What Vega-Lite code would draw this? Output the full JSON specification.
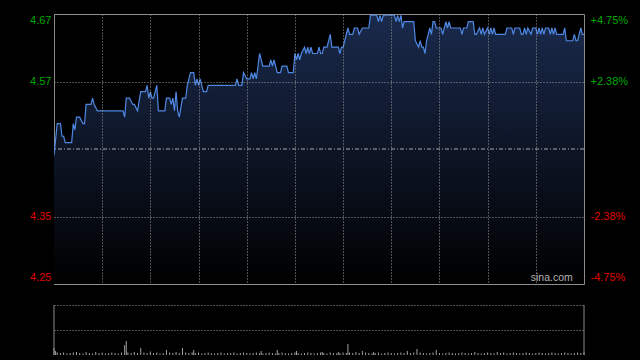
{
  "$schema": "https://vega.github.io/schema/vega-lite/v6.json",
  "background": "#000000",
  "padding": {"left": 29, "top": 13, "right": 13, "bottom": 6},
  "spacing": 21,
  "bounds": "flush",
  "config": {
    "font": "Liberation Sans",
    "view": {"stroke": "#8a8a8a"},
    "axis": {"labelFont": "Liberation Sans", "labelFontSize": 11}
  },
  "datasets": {
    "price": [
      {"t":0,"p":4.45},{"t":2,"p":4.50},{"t":4,"p":4.50},{"t":5,"p":4.48},{"t":6,"p":4.48},{"t":7,"p":4.47},{"t":11,"p":4.47},
      {"t":12,"p":4.50},{"t":13,"p":4.49},{"t":14,"p":4.51},{"t":16,"p":4.51},{"t":18,"p":4.50},{"t":19,"p":4.50},{"t":20,"p":4.53},
      {"t":23,"p":4.53},{"t":24,"p":4.54},{"t":25,"p":4.53},{"t":27,"p":4.52},{"t":43,"p":4.52},{"t":44,"p":4.51},{"t":45,"p":4.54},
      {"t":47,"p":4.54},{"t":49,"p":4.53},{"t":50,"p":4.53},{"t":52,"p":4.52},{"t":54,"p":4.55},{"t":57,"p":4.55},{"t":58,"p":4.56},
      {"t":59,"p":4.54},{"t":60,"p":4.55},{"t":61,"p":4.54},{"t":62,"p":4.54},{"t":64,"p":4.56},{"t":65,"p":4.52},{"t":69,"p":4.52},
      {"t":70,"p":4.54},{"t":72,"p":4.54},{"t":73,"p":4.53},{"t":74,"p":4.54},{"t":75,"p":4.52},{"t":76,"p":4.55},{"t":77,"p":4.52},
      {"t":78,"p":4.51},{"t":80,"p":4.54},{"t":82,"p":4.54},{"t":83,"p":4.56},{"t":85,"p":4.58},{"t":87,"p":4.58},{"t":88,"p":4.56},
      {"t":89,"p":4.57},{"t":90,"p":4.56},{"t":91,"p":4.57},{"t":92,"p":4.56},{"t":93,"p":4.55},{"t":95,"p":4.55},{"t":96,"p":4.56},
      {"t":113,"p":4.56},{"t":114,"p":4.57},{"t":115,"p":4.56},{"t":117,"p":4.56},{"t":118,"p":4.58},{"t":120,"p":4.57},{"t":122,"p":4.57},
      {"t":123,"p":4.58},{"t":124,"p":4.57},{"t":125,"p":4.58},{"t":126,"p":4.57},{"t":128,"p":4.61},{"t":130,"p":4.59},{"t":134,"p":4.59},
      {"t":135,"p":4.60},{"t":136,"p":4.59},{"t":137,"p":4.60},{"t":138,"p":4.59},{"t":139,"p":4.58},{"t":141,"p":4.58},{"t":142,"p":4.59},
      {"t":145,"p":4.59},{"t":146,"p":4.58},{"t":149,"p":4.58},{"t":150,"p":4.61},{"t":151,"p":4.60},{"t":152,"p":4.61},{"t":153,"p":4.60},
      {"t":154,"p":4.61},{"t":156,"p":4.62},{"t":157,"p":4.61},{"t":158,"p":4.62},{"t":159,"p":4.61},{"t":160,"p":4.62},{"t":161,"p":4.61},
      {"t":164,"p":4.61},{"t":165,"p":4.62},{"t":166,"p":4.61},{"t":167,"p":4.61},{"t":168,"p":4.62},{"t":170,"p":4.62},{"t":172,"p":4.64},
      {"t":173,"p":4.62},{"t":177,"p":4.62},{"t":178,"p":4.61},{"t":179,"p":4.62},{"t":180,"p":4.62},{"t":181,"p":4.63},{"t":183,"p":4.65},
      {"t":184,"p":4.64},{"t":186,"p":4.64},{"t":187,"p":4.65},{"t":189,"p":4.65},{"t":190,"p":4.64},{"t":192,"p":4.65},{"t":196,"p":4.65},
      {"t":197,"p":4.67},{"t":201,"p":4.67},{"t":202,"p":4.66},{"t":203,"p":4.67},{"t":204,"p":4.66},{"t":205,"p":4.67},{"t":212,"p":4.67},
      {"t":213,"p":4.66},{"t":214,"p":4.67},{"t":215,"p":4.66},{"t":216,"p":4.67},{"t":217,"p":4.65},{"t":218,"p":4.66},{"t":224,"p":4.66},
      {"t":225,"p":4.63},{"t":227,"p":4.62},{"t":228,"p":4.63},{"t":229,"p":4.62},{"t":230,"p":4.62},{"t":231,"p":4.61},{"t":232,"p":4.63},
      {"t":233,"p":4.64},{"t":234,"p":4.65},{"t":235,"p":4.64},{"t":236,"p":4.66},{"t":237,"p":4.66},{"t":238,"p":4.65},{"t":241,"p":4.65},
      {"t":242,"p":4.64},{"t":243,"p":4.65},{"t":244,"p":4.66},{"t":245,"p":4.65},{"t":246,"p":4.66},{"t":247,"p":4.65},{"t":253,"p":4.65},
      {"t":254,"p":4.64},{"t":255,"p":4.65},{"t":257,"p":4.65},{"t":258,"p":4.66},{"t":261,"p":4.66},{"t":262,"p":4.64},{"t":263,"p":4.64},
      {"t":265,"p":4.65},{"t":266,"p":4.64},{"t":267,"p":4.65},{"t":268,"p":4.64},{"t":270,"p":4.65},{"t":271,"p":4.64},{"t":272,"p":4.65},
      {"t":273,"p":4.64},{"t":274,"p":4.65},{"t":275,"p":4.64},{"t":281,"p":4.64},{"t":282,"p":4.65},{"t":285,"p":4.65},{"t":286,"p":4.64},
      {"t":287,"p":4.65},{"t":290,"p":4.65},{"t":291,"p":4.64},{"t":292,"p":4.64},{"t":293,"p":4.65},{"t":294,"p":4.64},{"t":295,"p":4.65},
      {"t":297,"p":4.64},{"t":298,"p":4.65},{"t":300,"p":4.65},{"t":301,"p":4.64},{"t":302,"p":4.65},{"t":303,"p":4.64},{"t":304,"p":4.65},
      {"t":305,"p":4.64},{"t":306,"p":4.65},{"t":308,"p":4.65},{"t":309,"p":4.64},{"t":310,"p":4.65},{"t":311,"p":4.64},{"t":312,"p":4.65},
      {"t":313,"p":4.64},{"t":317,"p":4.64},{"t":318,"p":4.65},{"t":319,"p":4.63},{"t":323,"p":4.63},{"t":324,"p":4.64},{"t":325,"p":4.63},
      {"t":326,"p":4.63},{"t":327,"p":4.64},{"t":328,"p":4.65},{"t":329,"p":4.64},{"t":330,"p":4.64}
    ],
    "vol": [
      {"t":0,"v":14},{"t":1,"v":8},{"t":2,"v":5},{"t":4,"v":4},{"t":6,"v":5},{"t":8,"v":3},{"t":10,"v":4},{"t":12,"v":5},{"t":14,"v":6},
      {"t":16,"v":4},{"t":18,"v":3},{"t":20,"v":6},{"t":22,"v":4},{"t":24,"v":3},{"t":26,"v":6},{"t":28,"v":4},{"t":30,"v":5},{"t":32,"v":3},
      {"t":34,"v":4},{"t":36,"v":5},{"t":38,"v":4},{"t":40,"v":3},{"t":42,"v":5},{"t":44,"v":20},{"t":45,"v":28},{"t":46,"v":5},{"t":48,"v":4},
      {"t":50,"v":6},{"t":52,"v":4},{"t":54,"v":14},{"t":56,"v":5},{"t":58,"v":4},{"t":60,"v":7},{"t":62,"v":4},{"t":64,"v":5},{"t":66,"v":3},
      {"t":68,"v":4},{"t":70,"v":10},{"t":72,"v":5},{"t":74,"v":4},{"t":76,"v":6},{"t":78,"v":4},{"t":80,"v":14},{"t":82,"v":5},{"t":84,"v":4},
      {"t":86,"v":5},{"t":87,"v":10},{"t":88,"v":4},{"t":90,"v":5},{"t":92,"v":3},{"t":94,"v":4},{"t":96,"v":5},{"t":98,"v":4},{"t":100,"v":3},
      {"t":102,"v":4},{"t":104,"v":5},{"t":106,"v":3},{"t":108,"v":4},{"t":110,"v":4},{"t":112,"v":5},{"t":114,"v":3},{"t":116,"v":4},
      {"t":118,"v":5},{"t":120,"v":4},{"t":122,"v":3},{"t":124,"v":4},{"t":126,"v":5},{"t":128,"v":4},{"t":129,"v":8},{"t":130,"v":3},
      {"t":132,"v":4},{"t":134,"v":5},{"t":136,"v":4},{"t":138,"v":3},{"t":139,"v":10},{"t":140,"v":4},{"t":142,"v":5},{"t":144,"v":4},
      {"t":146,"v":3},{"t":148,"v":4},{"t":150,"v":5},{"t":151,"v":8},{"t":152,"v":4},{"t":154,"v":3},{"t":156,"v":4},{"t":158,"v":5},
      {"t":160,"v":4},{"t":162,"v":3},{"t":164,"v":4},{"t":166,"v":5},{"t":167,"v":6},{"t":168,"v":4},{"t":170,"v":3},{"t":172,"v":5},
      {"t":174,"v":4},{"t":176,"v":3},{"t":177,"v":6},{"t":178,"v":4},{"t":180,"v":5},{"t":182,"v":4},{"t":183,"v":22},{"t":184,"v":5},
      {"t":186,"v":4},{"t":188,"v":6},{"t":190,"v":4},{"t":192,"v":8},{"t":194,"v":5},{"t":196,"v":4},{"t":198,"v":3},{"t":199,"v":6},
      {"t":200,"v":4},{"t":202,"v":5},{"t":204,"v":3},{"t":206,"v":4},{"t":208,"v":5},{"t":210,"v":4},{"t":212,"v":3},{"t":214,"v":4},
      {"t":216,"v":5},{"t":218,"v":4},{"t":220,"v":8},{"t":222,"v":4},{"t":224,"v":5},{"t":226,"v":12},{"t":228,"v":5},{"t":230,"v":4},
      {"t":232,"v":3},{"t":234,"v":4},{"t":236,"v":5},{"t":238,"v":10},{"t":240,"v":4},{"t":242,"v":3},{"t":244,"v":4},{"t":246,"v":5},
      {"t":248,"v":4},{"t":250,"v":3},{"t":252,"v":4},{"t":254,"v":5},{"t":256,"v":4},{"t":258,"v":3},{"t":260,"v":4},{"t":262,"v":6},
      {"t":264,"v":4},{"t":266,"v":3},{"t":268,"v":4},{"t":270,"v":5},{"t":272,"v":4},{"t":274,"v":3},{"t":276,"v":6},{"t":278,"v":4},
      {"t":280,"v":5},{"t":282,"v":3},{"t":284,"v":4},{"t":286,"v":5},{"t":288,"v":4},{"t":290,"v":3},{"t":292,"v":4},{"t":294,"v":5},
      {"t":296,"v":4},{"t":298,"v":3},{"t":300,"v":4},{"t":302,"v":5},{"t":304,"v":4},{"t":306,"v":3},{"t":308,"v":4},{"t":310,"v":5},
      {"t":312,"v":4},{"t":314,"v":3},{"t":316,"v":4},{"t":318,"v":5},{"t":320,"v":4},{"t":322,"v":3},{"t":324,"v":4},{"t":326,"v":5},
      {"t":328,"v":4},{"t":330,"v":5}
    ]
  },
  "vconcat": [
    {
      "width": 530,
      "height": 270,
      "resolve": {"axis": {"y": "independent"}},
      "layer": [
        {
          "data": {"name": "price"},
          "mark": {
            "type": "area",
            "clip": true,
            "fill": {
              "gradient": "linear",
              "x1": 0, "y1": 1, "x2": 0, "y2": 0,
              "stops": [
                {"offset": 0, "color": "#000000"},
                {"offset": 1, "color": "#1a2a4c"}
              ]
            }
          },
          "encoding": {
            "x": {
              "field": "t", "type": "quantitative",
              "scale": {"domain": [0, 330], "nice": false, "zero": false},
              "axis": {
                "grid": true, "values": [30, 60, 90, 120, 150, 180, 210, 240, 270, 300],
                "labels": false, "ticks": false, "domain": false, "title": null,
                "gridColor": "#9a9a9a", "gridDash": [1, 2], "zindex": 1
              }
            },
            "y": {
              "field": "p", "type": "quantitative",
              "scale": {"domain": [4.248, 4.672], "nice": false, "zero": false},
              "axis": {
                "values": [4.248, 4.354, 4.566, 4.672],
                "format": ".2f", "labelFlush": true,
                "labelOffset": {"condition": {"test": "datum.value < 4.3", "value": -2}, "value": 0},
                "grid": true, "gridColor": "#9a9a9a", "gridDash": [1, 2],
                "ticks": false, "domain": false, "title": null, "labelPadding": 3,
                "labelColor": {"condition": {"test": "datum.value > 4.46", "value": "#00a800"}, "value": "#e00000"},
                "zindex": 1
              }
            },
            "y2": {"datum": 4.248}
          }
        },
        {
          "data": {"name": "price"},
          "mark": {"type": "line", "color": "#4f88e3", "strokeWidth": 1.2, "clip": true},
          "encoding": {
            "x": {"field": "t", "type": "quantitative"},
            "y": {
              "field": "p", "type": "quantitative",
              "axis": {
                "orient": "right",
                "values": [4.248, 4.354, 4.566, 4.672],
                "labelExpr": "(datum.value > 4.46 ? '+' : '-') + format(abs(datum.value / 4.46 - 1) * 100, '.2f') + '%'",
                "labelFlush": true,
                "labelOffset": {"condition": {"test": "datum.value < 4.3", "value": -2}, "value": 0},
                "grid": false, "ticks": false, "domain": false, "title": null,
                "labelPadding": 6,
                "labelColor": {"condition": {"test": "datum.value > 4.46", "value": "#00a800"}, "value": "#e00000"}
              }
            }
          }
        },
        {
          "data": {"values": [{}]},
          "mark": {"type": "rule", "color": "#a8a8a8", "strokeDash": [4, 2, 1, 2], "strokeWidth": 1},
          "encoding": {"y": {"datum": 4.46, "type": "quantitative", "axis": null}}
        },
        {
          "data": {"values": [{}]},
          "mark": {"type": "text", "text": "sina.com", "align": "right", "baseline": "bottom", "fontSize": 10.5, "color": "#b4b4b4", "dy": -1},
          "encoding": {
            "x": {"datum": 323, "type": "quantitative"},
            "y": {"datum": 4.248, "type": "quantitative", "axis": null}
          }
        }
      ]
    },
    {
      "width": 530,
      "height": 50,
      "view": {"stroke": null},
      "layer": [
        {
          "data": {"name": "vol"},
          "mark": {"type": "rule", "color": "#a0a0a0", "strokeWidth": 1},
          "encoding": {
            "x": {"field": "t", "type": "quantitative", "scale": {"domain": [0, 330], "nice": false, "zero": false}, "axis": null},
            "y": {
              "field": "v", "type": "quantitative",
              "scale": {"domain": [0, 100], "nice": false},
              "axis": {"values": [50, 100], "grid": true, "gridColor": "#9a9a9a", "gridDash": [1, 2], "labels": false, "ticks": false, "domain": false, "title": null}
            },
            "y2": {"datum": 0}
          }
        },
        {
          "data": {"values": [{"t": 0}, {"t": 330}]},
          "mark": {"type": "rule", "color": "#8a8a8a", "strokeWidth": 1},
          "encoding": {
            "x": {"field": "t", "type": "quantitative"},
            "y": {"datum": 0, "type": "quantitative"},
            "y2": {"datum": 100}
          }
        }
      ]
    }
  ]
}
